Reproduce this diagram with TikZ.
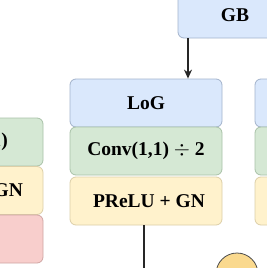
\documentclass[tikz,border=0pt]{standalone}
\usepackage{fontspec}
\setmainfont{Liberation Serif}
\usetikzlibrary{arrows.meta}
\definecolor{bfill}{HTML}{DAE8FC}
\definecolor{bdraw}{HTML}{A3B3CC}
\definecolor{gfill}{HTML}{D5E8D4}
\definecolor{gdraw}{HTML}{A9C2A8}
\definecolor{yfill}{HTML}{FFF2CC}
\definecolor{ydraw}{HTML}{DCCFA8}
\definecolor{rfill}{HTML}{F8CECC}
\definecolor{rdraw}{HTML}{D0A6A4}
\definecolor{cfill}{HTML}{FAD98E}
\tikzset{
  x=1pt, y=-1pt,
  box/.style={rounded corners=6pt, line width=0.8pt, minimum width=152pt, minimum height=48pt,
    inner sep=0pt, font=\bfseries\fontsize{19.5}{22}\selectfont, text=black},
  bluebox/.style={box, fill=bfill, draw=bdraw},
  greenbox/.style={box, fill=gfill, draw=gdraw},
  yellowbox/.style={box, fill=yfill, draw=ydraw},
  redbox/.style={box, fill=rfill, draw=rdraw},
  conn/.style={line width=1.2pt, draw=black!85},
}
\begin{document}
\begin{tikzpicture}
\useasboundingbox (0,0) rectangle (267,268);
\clip (0,0) rectangle (267,268);
\fill[white] (0,0) rectangle (267,268);
% GB box
\node[bluebox, minimum width=114pt, minimum height=46pt] (GB) at (235,15) {GB};
% left column
\node[greenbox] (L1) at (-33,142) {Conv(1,1)};
\node[yellowbox] (L2) at (-33,190.5) {PReLU + GN};
\node[redbox] (L3) at (-33,239) {};
% middle column
\node[bluebox] (M1) at (146,103) {LoG};
\node[greenbox] (M2) at (146,151) {Conv(1,1) $\div$ 2};
\node[yellowbox] (M3) at (146,201) {\hspace*{6pt}PReLU + GN};
% right column
\node[bluebox] (R1) at (331,103) {};
\node[greenbox] (R2) at (331,151) {};
\node[yellowbox] (R3) at (331,201) {};
% circle
\node[circle, minimum size=42pt, fill=cfill, draw=black!70, line width=0.8pt] (C) at (237,274) {};
% connectors
\coordinate (down) at (144,275);
\draw[conn, -{Stealth[length=9pt,width=8pt]}] ([xshift=-47pt]GB.south) -- ([xshift=42pt]M1.north);
\draw[conn] ([xshift=-2pt]M3.south) -- (down);
\end{tikzpicture}
\end{document}
